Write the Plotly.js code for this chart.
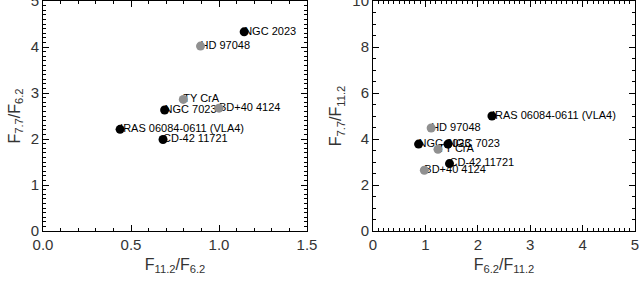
<!DOCTYPE html>
<html>
<head>
<meta charset="utf-8">
<script src="https://cdn.plot.ly/plotly-3.0.1.min.js"></script>
<style>html,body{margin:0;padding:0;background:#fff}#chart{width:639px;height:283px}</style>
</head>
<body>
<div id="chart"></div>
<script>
// Source names and group (A = black, B = gray)
const names = ["NGC 2023", "HD 97048", "TY CrA", "NGC 7023", "BD+40 4124", "IRAS 06084-0611 (VLA4)", "CD-42 11721"];
const groups = ["A", "B", "B", "A", "B", "A", "A"];
// Left panel: F11.2/F6.2 vs F7.7/F6.2
const leftX = [1.143, 0.895, 0.797, 0.691, 1.000, 0.438, 0.682];
const leftY = [4.33, 4.02, 2.86, 2.63, 2.67, 2.21, 1.99];
// Right panel: F6.2/F11.2 vs F7.7/F11.2
const rightX = [0.87, 1.11, 1.24, 1.43, 0.98, 2.27, 1.46];
const rightY = [3.78, 4.48, 3.55, 3.78, 2.64, 5.00, 2.93];

const colorOf = {A: "#000000", B: "#909090"};
const FONT = "Liberation Sans, Arial, sans-serif";

function pick(arr, g) { return arr.filter((v, i) => groups[i] === g); }

function panelTraces(xs, ys, xa, ya) {
  const t = [];
  t.push({
    x: xs, y: ys, text: names, mode: "text", type: "scatter",
    textposition: "middle right", textfont: {family: FONT, size: 11, color: "#000"},
    xaxis: xa, yaxis: ya, hoverinfo: "skip", showlegend: false
  });
  ["B", "A"].forEach(g => {
    t.push({
      x: pick(xs, g), y: pick(ys, g), mode: "markers", type: "scatter",
      marker: {size: 9, color: colorOf[g], line: {width: 0}},
      xaxis: xa, yaxis: ya, showlegend: false
    });
  });
  return t;
}

const data = [].concat(
  panelTraces(leftX, leftY, "x", "y"),
  panelTraces(rightX, rightY, "x2", "y2")
);

function axis(opts) {
  return Object.assign({
    showline: true, linecolor: "#000", linewidth: 1, mirror: "ticks",
    ticks: "inside", ticklen: 6, tickcolor: "#000", tickwidth: 1,
    showgrid: false, zeroline: false, ticklabeloverflow: "allow",
    tickfont: {family: FONT, size: 15, color: "#333"},
    fixedrange: true
  }, opts);
}

const titleFont = {family: FONT, size: 16, color: "#333"};

const layout = {
  width: 639, height: 283,
  margin: {l: 0, r: 0, t: 0, b: 0},
  paper_bgcolor: "#fff", plot_bgcolor: "#fff",
  showlegend: false,
  xaxis: axis({
    domain: [43/639, 307/639], range: [0, 1.5], dtick: 0.5, tickformat: ".1f",
    minor: {ticks: "inside", ticklen: 3, dtick: 0.1, tickcolor: "#000"},
    anchor: "y",
    title: {text: "F<sub>11.2</sub>/F<sub>6.2</sub>", font: titleFont, standoff: 6}
  }),
  yaxis: axis({
    domain: [52/283, 282/283], range: [0, 5], dtick: 1,
    minor: {ticks: "inside", ticklen: 3, dtick: 0.1, tickcolor: "#000"},
    anchor: "x",
    title: {text: "F<sub>7.7</sub>/F<sub>6.2</sub>", font: titleFont, standoff: 6}
  }),
  xaxis2: axis({
    domain: [373/639, 635/639], range: [0, 5], dtick: 1,
    minor: {ticks: "inside", ticklen: 3, dtick: 0.1, tickcolor: "#000"},
    anchor: "y2",
    title: {text: "F<sub>6.2</sub>/F<sub>11.2</sub>", font: titleFont, standoff: 6}
  }),
  yaxis2: axis({
    domain: [52/283, 282/283], range: [0, 10], dtick: 2,
    minor: {ticks: "inside", ticklen: 3, dtick: 0.5, tickcolor: "#000"},
    anchor: "x2",
    title: {text: "F<sub>7.7</sub>/F<sub>11.2</sub>", font: titleFont, standoff: 6}
  })
};

Plotly.newPlot("chart", data, layout, {displayModeBar: false, staticPlot: true});
</script>
</body>
</html>
